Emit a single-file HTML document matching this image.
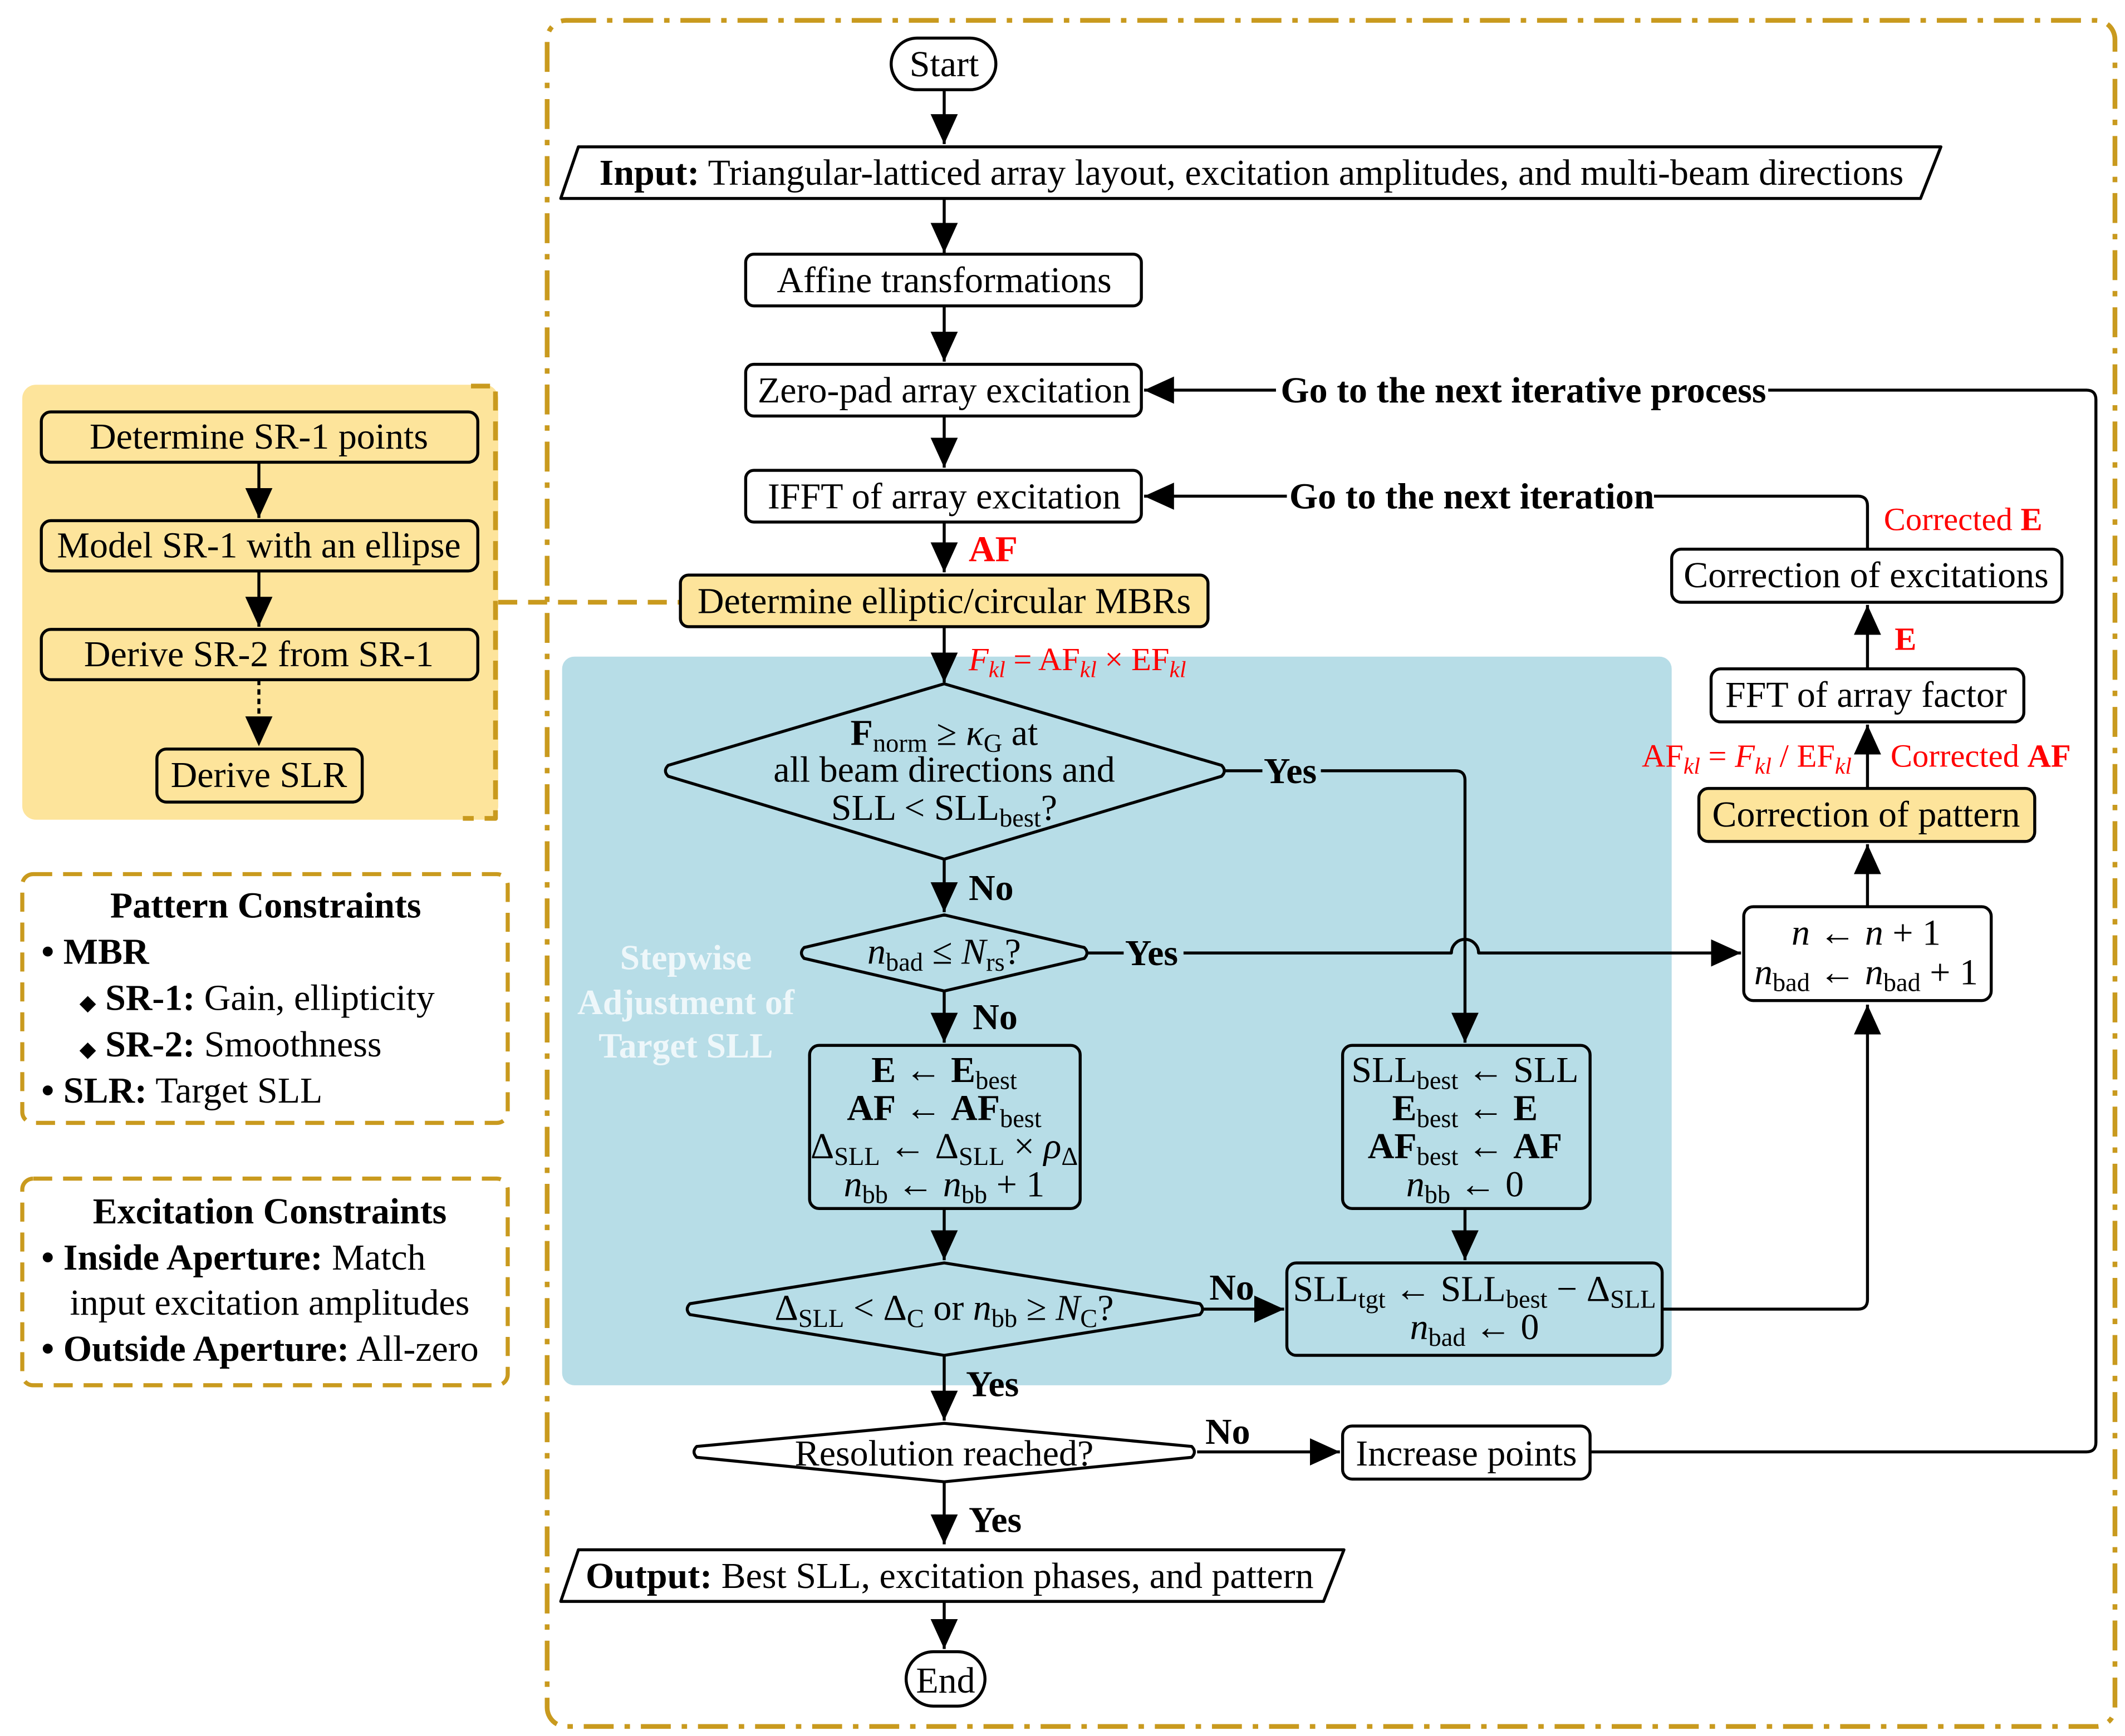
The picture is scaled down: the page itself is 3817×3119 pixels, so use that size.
<!DOCTYPE html>
<html><head><meta charset="utf-8"><style>
html,body{margin:0;padding:0;background:#fff}
svg{display:block}
text{font-family:"Liberation Serif","Times New Roman",serif;font-size:27px;fill:#000}
.b{font-weight:bold}
.r{fill:#f00}
.i{font-style:italic}
</style></head><body>
<svg width="3817" height="3119" viewBox="0 0 1562 1277" xmlns="http://www.w3.org/2000/svg">
<defs>
<marker id="a" markerUnits="userSpaceOnUse" markerWidth="24" markerHeight="20" refX="22" refY="10" orient="auto"><path d="M0,0 L22,10 L0,20 z" fill="#000"/></marker>
</defs>
<g fill="none" stroke-linejoin="round">
<rect x="402" y="15" width="1153" height="1255" rx="14" stroke="#C99A1E" stroke-width="3.5" stroke-dasharray="22 8 4 8"/>
<rect x="16" y="283" width="350" height="320" rx="10" fill="#FDE49B" stroke="none"/>
<path d="M346,284 H364 V602 H340" stroke="#C99A1E" stroke-width="3.5" stroke-dasharray="14 8"/>
<path d="M366,443 H500" stroke="#C99A1E" stroke-width="3.5" stroke-dasharray="14 8"/>
<rect x="16" y="643" width="357" height="183" rx="8" stroke="#C99A1E" stroke-width="3" stroke-dasharray="14 8"/>
<rect x="16" y="867" width="357" height="152" rx="8" stroke="#C99A1E" stroke-width="3" stroke-dasharray="14 8"/>
<rect x="413" y="483" width="816" height="536" rx="9" fill="#B7DDE7"/>
</g>
<g fill="none" stroke="#000" stroke-width="2.2" stroke-linejoin="round">
<rect x="30" y="303" width="321" height="37" rx="7"/>
<rect x="30" y="383" width="321" height="37" rx="7"/>
<rect x="30" y="463" width="321" height="37" rx="7"/>
<rect x="115" y="551" width="151" height="39" rx="7"/>
<path d="M190,340 V381" marker-end="url(#a)"/>
<path d="M190,420 V461" marker-end="url(#a)"/>
<path d="M190,500 V549" stroke-dasharray="4 3" marker-end="url(#a)"/>

<rect x="655" y="28" width="77" height="38" rx="19" fill="#fff"/>
<path d="M694,66 V106" marker-end="url(#a)"/>
<path d="M425,108 H1427 L1412,146 H412 Z" fill="#fff"/>
<path d="M694,146 V186" marker-end="url(#a)"/>
<rect x="548" y="187" width="291" height="38" rx="6" fill="#fff"/>
<path d="M694,225 V266" marker-end="url(#a)"/>
<rect x="548" y="268" width="291" height="38" rx="6" fill="#fff"/>
<path d="M694,306 V344" marker-end="url(#a)"/>
<rect x="548" y="346" width="291" height="38" rx="6" fill="#fff"/>
<path d="M694,384 V421" marker-end="url(#a)"/>
<rect x="500" y="423" width="388" height="38" rx="6" fill="#FDE49B"/>
<path d="M694,461 V502" marker-end="url(#a)"/>
<path d="M694,503 L898,563 Q902,567 898,571 L694,632 L491,571 Q487,567 491,563 Z"/>
<path d="M900,567 H928"/>
<path d="M971,567 H1070 Q1077,567 1077,574 V767" marker-end="url(#a)"/>
<path d="M694,632 V671" marker-end="url(#a)"/>
<path d="M694,673 L797,697 Q801,701 797,705 L694,729 L591,705 Q587,701 591,697 Z"/>
<path d="M800,701 H826"/>
<path d="M870,701 H1067 A10,10 0 0 1 1087,701 H1280" marker-end="url(#a)"/>
<path d="M694,729 V767" marker-end="url(#a)"/>
<rect x="595" y="769" width="199" height="120" rx="7"/>
<rect x="987" y="769" width="182" height="120" rx="7"/>
<path d="M694,889 V927" marker-end="url(#a)"/>
<path d="M1077,889 V927" marker-end="url(#a)"/>
<path d="M694,929 L882,959 Q886,963 882,967 L694,997 L507,967 Q503,963 507,959 Z"/>
<path d="M885,963 H944" marker-end="url(#a)"/>
<rect x="946" y="929" width="276" height="68" rx="7"/>
<path d="M1222,963 H1366 Q1373,963 1373,956 V739" marker-end="url(#a)"/>
<rect x="1282" y="667" width="182" height="69" rx="7" fill="#fff"/>
<path d="M1373,667 V621" marker-end="url(#a)"/>
<rect x="1249" y="580" width="247" height="39" rx="7" fill="#FDE49B"/>
<path d="M1373,580 V533" marker-end="url(#a)"/>
<rect x="1258" y="492" width="230" height="39" rx="7" fill="#fff"/>
<path d="M1373,492 V445" marker-end="url(#a)"/>
<rect x="1229" y="404" width="287" height="39" rx="7" fill="#fff"/>
<path d="M1373,404 V372 Q1373,365 1366,365 H1216"/>
<path d="M946,365 H841" marker-end="url(#a)"/>
<path d="M1300,287 H1534 Q1541,287 1541,294 V1061 Q1541,1068 1534,1068 H1169"/>
<path d="M938,287 H841" marker-end="url(#a)"/>
<path d="M694,997 V1045" marker-end="url(#a)"/>
<path d="M694,1047 L876,1064 Q880,1068 876,1072 L694,1090 L512,1072 Q508,1068 512,1064 Z" fill="#fff"/>
<path d="M880,1068 H985" marker-end="url(#a)"/>
<rect x="987" y="1049" width="182" height="39" rx="7" fill="#fff"/>
<path d="M694,1090 V1136" marker-end="url(#a)"/>
<path d="M425,1140 H988 L973,1178 H412 Z" fill="#fff"/>
<path d="M694,1178 V1213" marker-end="url(#a)"/>
<rect x="666" y="1215" width="58" height="40" rx="20" fill="#fff"/>
</g>

<g text-anchor="middle">
<text x="190" y="330">Determine SR-1 points</text>
<text x="190" y="410">Model SR-1 with an ellipse</text>
<text x="190" y="490">Derive SR-2 from SR-1</text>
<text x="190" y="579">Derive SLR</text>
<text x="195" y="675" class="b">Pattern Constraints</text>
<text x="198" y="900" class="b">Excitation Constraints</text>
</g>
<text x="30" y="709"><tspan class="b">• MBR</tspan></text>
<text x="58" y="743"><tspan font-size="16">◆</tspan> <tspan class="b">SR-1:</tspan> Gain, ellipticity</text>
<text x="58" y="777"><tspan font-size="16">◆</tspan> <tspan class="b">SR-2:</tspan> Smoothness</text>
<text x="30" y="811"><tspan class="b">• SLR:</tspan> Target SLL</text>
<text x="30" y="934"><tspan class="b">• Inside Aperture:</tspan> Match</text>
<text x="51" y="967">input excitation amplitudes</text>
<text x="30" y="1001"><tspan class="b">• Outside Aperture:</tspan> All-zero</text>

<g text-anchor="middle">
<text x="694" y="56">Start</text>
<text x="920" y="136"><tspan class="b">Input:</tspan> Triangular-latticed array layout, excitation amplitudes, and multi-beam directions</text>
<text x="694" y="215">Affine transformations</text>
<text x="694" y="296">Zero-pad array excitation</text>
<text x="694" y="374">IFFT of array excitation</text>
<text x="694" y="451">Determine elliptic/circular MBRs</text>
<text x="1120" y="296" class="b">Go to the next iterative process</text>
<text x="1082" y="374" class="b">Go to the next iteration</text>
<text x="1372" y="432">Correction of excitations</text>
<text x="1372" y="520">FFT of array factor</text>
<text x="1372" y="608">Correction of pattern</text>
<text x="1372" y="695"><tspan class="i">n</tspan> ← <tspan class="i">n</tspan> + 1</text>
<text x="1372" y="724"><tspan class="i">n</tspan><tspan font-size="19" dy="5">bad</tspan><tspan dy="-5"> ← </tspan><tspan class="i">n</tspan><tspan font-size="19" dy="5">bad</tspan><tspan dy="-5"> + 1</tspan></text>
<text x="694" y="548"><tspan class="b">F</tspan><tspan font-size="19" dy="5">norm</tspan><tspan dy="-5"> ≥ </tspan><tspan class="i">κ</tspan><tspan font-size="19" dy="5">G</tspan><tspan dy="-5"> at</tspan></text>
<text x="694" y="575">all beam directions and</text>
<text x="694" y="603">SLL &lt; SLL<tspan font-size="19" dy="5">best</tspan><tspan dy="-5">?</tspan></text>
<text x="694" y="709"><tspan class="i">n</tspan><tspan font-size="19" dy="5">bad</tspan><tspan dy="-5"> ≤ </tspan><tspan class="i">N</tspan><tspan font-size="19" dy="5">rs</tspan><tspan dy="-5">?</tspan></text>
<text x="694" y="796"><tspan class="b">E</tspan> ← <tspan class="b">E</tspan><tspan font-size="19" dy="5">best</tspan></text>
<text x="694" y="824"><tspan class="b">AF</tspan> ← <tspan class="b">AF</tspan><tspan font-size="19" dy="5">best</tspan></text>
<text x="694" y="852">Δ<tspan font-size="19" dy="5">SLL</tspan><tspan dy="-5"> ← Δ</tspan><tspan font-size="19" dy="5">SLL</tspan><tspan dy="-5"> × </tspan><tspan class="i">ρ</tspan><tspan font-size="19" dy="5">Δ</tspan></text>
<text x="694" y="880"><tspan class="i">n</tspan><tspan font-size="19" dy="5">bb</tspan><tspan dy="-5"> ← </tspan><tspan class="i">n</tspan><tspan font-size="19" dy="5">bb</tspan><tspan dy="-5"> + 1</tspan></text>
<text x="1077" y="796">SLL<tspan font-size="19" dy="5">best</tspan><tspan dy="-5"> ← SLL</tspan></text>
<text x="1077" y="824"><tspan class="b">E</tspan><tspan font-size="19" dy="5">best</tspan><tspan dy="-5"> ← </tspan><tspan class="b">E</tspan></text>
<text x="1077" y="852"><tspan class="b">AF</tspan><tspan font-size="19" dy="5">best</tspan><tspan dy="-5"> ← </tspan><tspan class="b">AF</tspan></text>
<text x="1077" y="880"><tspan class="i">n</tspan><tspan font-size="19" dy="5">bb</tspan><tspan dy="-5"> ← 0</tspan></text>
<text x="694" y="971">Δ<tspan font-size="19" dy="5">SLL</tspan><tspan dy="-5"> &lt; Δ</tspan><tspan font-size="19" dy="5">C</tspan><tspan dy="-5"> or </tspan><tspan class="i">n</tspan><tspan font-size="19" dy="5">bb</tspan><tspan dy="-5"> ≥ </tspan><tspan class="i">N</tspan><tspan font-size="19" dy="5">C</tspan><tspan dy="-5">?</tspan></text>
<text x="1084" y="957">SLL<tspan font-size="19" dy="5">tgt</tspan><tspan dy="-5"> ← SLL</tspan><tspan font-size="19" dy="5">best</tspan><tspan dy="-5"> − Δ</tspan><tspan font-size="19" dy="5">SLL</tspan></text>
<text x="1084" y="985"><tspan class="i">n</tspan><tspan font-size="19" dy="5">bad</tspan><tspan dy="-5"> ← 0</tspan></text>
<text x="694" y="1078">Resolution reached?</text>
<text x="1078" y="1078">Increase points</text>
<text x="698" y="1168"><tspan class="b">Output:</tspan> Best SLL, excitation phases, and pattern</text>
<text x="695" y="1245">End</text>
<text x="504" y="713" style="fill:#EEF7FA;font-weight:bold;font-size:26px">Stepwise</text>
<text x="504" y="746" style="fill:#EEF7FA;font-weight:bold;font-size:26px">Adjustment of</text>
<text x="504" y="778" style="fill:#EEF7FA;font-weight:bold;font-size:26px">Target SLL</text>
</g>
<text x="929" y="576" class="b">Yes</text>
<text x="712" y="662" class="b">No</text>
<text x="827" y="710" class="b">Yes</text>
<text x="715" y="757" class="b">No</text>
<text x="889" y="956" class="b">No</text>
<text x="710" y="1027" class="b">Yes</text>
<text x="886" y="1062" class="b">No</text>
<text x="712" y="1127" class="b">Yes</text>
<text x="712" y="413" class="b r">AF</text>
<text x="712" y="493" class="r" style="font-size:24px"><tspan class="i r">F</tspan><tspan class="i r" font-size="17" dy="5">kl</tspan><tspan class="r" dy="-5"> = AF</tspan><tspan class="i r" font-size="17" dy="5">kl</tspan><tspan class="r" dy="-5"> × EF</tspan><tspan class="i r" font-size="17" dy="5">kl</tspan></text>
<text x="1385" y="390" class="r" style="font-size:24px">Corrected <tspan class="b r">E</tspan></text>
<text x="1393" y="478" class="b r" style="font-size:24px">E</text>
<text x="1207" y="564" class="r" style="font-size:24px">AF<tspan class="i r" font-size="17" dy="5">kl</tspan><tspan class="r" dy="-5"> = </tspan><tspan class="i r">F</tspan><tspan class="i r" font-size="17" dy="5">kl</tspan><tspan class="r" dy="-5"> / EF</tspan><tspan class="i r" font-size="17" dy="5">kl</tspan></text>
<text x="1390" y="564" class="r" style="font-size:24px">Corrected <tspan class="b r">AF</tspan></text>
</svg>
</body></html>
